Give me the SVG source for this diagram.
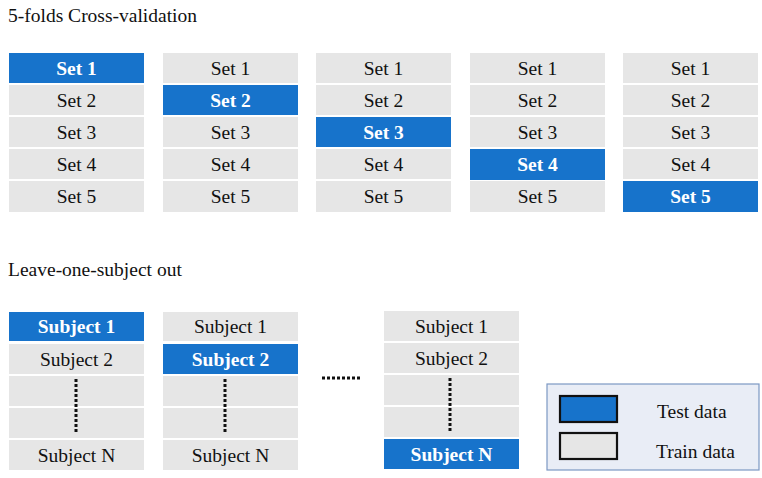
<svg xmlns="http://www.w3.org/2000/svg" width="762" height="478" viewBox="0 0 762 478">
<style>
text{font-family:"Liberation Serif","Times New Roman",serif;font-size:19.5px;fill:#111}
.lbl{text-anchor:middle}
.tr{fill:#e6e6e6}
.te{fill:#1773cb}
.b{font-weight:bold;fill:#fff}
.dot{stroke:#111;stroke-width:3;fill:none;stroke-dasharray:3 2}
</style>
<rect width="762" height="478" fill="#fff"/>
<text x="8" y="22">5-folds Cross-validation</text>
<text x="8" y="276">Leave-one-subject out</text>
<g id="fold1">
<rect class="te" x="9" y="53" width="135" height="30"/><text class="lbl b" x="76.5" y="75">Set 1</text>
<rect class="tr" x="9" y="85" width="135" height="30"/><text class="lbl" x="76.5" y="107">Set 2</text>
<rect class="tr" x="9" y="117" width="135" height="30"/><text class="lbl" x="76.5" y="139">Set 3</text>
<rect class="tr" x="9" y="149" width="135" height="30"/><text class="lbl" x="76.5" y="171">Set 4</text>
<rect class="tr" x="9" y="181" width="135" height="31"/><text class="lbl" x="76.5" y="203">Set 5</text>
</g>
<g id="fold2">
<rect class="tr" x="163" y="53" width="135" height="30"/><text class="lbl" x="230.5" y="75">Set 1</text>
<rect class="te" x="163" y="85" width="135" height="30"/><text class="lbl b" x="230.5" y="107">Set 2</text>
<rect class="tr" x="163" y="117" width="135" height="30"/><text class="lbl" x="230.5" y="139">Set 3</text>
<rect class="tr" x="163" y="149" width="135" height="30"/><text class="lbl" x="230.5" y="171">Set 4</text>
<rect class="tr" x="163" y="181" width="135" height="31"/><text class="lbl" x="230.5" y="203">Set 5</text>
</g>
<g id="fold3">
<rect class="tr" x="316" y="53" width="135" height="30"/><text class="lbl" x="383.5" y="75">Set 1</text>
<rect class="tr" x="316" y="85" width="135" height="30"/><text class="lbl" x="383.5" y="107">Set 2</text>
<rect class="te" x="316" y="117" width="135" height="30"/><text class="lbl b" x="383.5" y="139">Set 3</text>
<rect class="tr" x="316" y="149" width="135" height="30"/><text class="lbl" x="383.5" y="171">Set 4</text>
<rect class="tr" x="316" y="181" width="135" height="31"/><text class="lbl" x="383.5" y="203">Set 5</text>
</g>
<g id="fold4">
<rect class="tr" x="470" y="53" width="135" height="30"/><text class="lbl" x="537.5" y="75">Set 1</text>
<rect class="tr" x="470" y="85" width="135" height="30"/><text class="lbl" x="537.5" y="107">Set 2</text>
<rect class="tr" x="470" y="117" width="135" height="30"/><text class="lbl" x="537.5" y="139">Set 3</text>
<rect class="te" x="470" y="149" width="135" height="31"/><text class="lbl b" x="537.5" y="171">Set 4</text>
<rect class="tr" x="470" y="181" width="135" height="31"/><text class="lbl" x="537.5" y="203">Set 5</text>
</g>
<g id="fold5">
<rect class="tr" x="623" y="53" width="135" height="30"/><text class="lbl" x="690.5" y="75">Set 1</text>
<rect class="tr" x="623" y="85" width="135" height="30"/><text class="lbl" x="690.5" y="107">Set 2</text>
<rect class="tr" x="623" y="117" width="135" height="30"/><text class="lbl" x="690.5" y="139">Set 3</text>
<rect class="tr" x="623" y="149" width="135" height="30"/><text class="lbl" x="690.5" y="171">Set 4</text>
<rect class="te" x="623" y="181" width="135" height="31"/><text class="lbl b" x="690.5" y="203">Set 5</text>
</g>
<g id="loso1">
<rect class="te" x="9" y="312" width="135" height="29"/><text class="lbl b" x="76.5" y="333">Subject 1</text>
<rect class="tr" x="9" y="344" width="135" height="30"/><text class="lbl" x="76.5" y="366">Subject 2</text>
<rect class="tr" x="9" y="376" width="135" height="30"/>
<rect class="tr" x="9" y="408" width="135" height="30"/>
<rect class="tr" x="9" y="440" width="135" height="30"/><text class="lbl" x="76.5" y="462">Subject N</text>
<line class="dot" x1="76" y1="379" x2="76" y2="434"/>
</g>
<g id="loso2">
<rect class="tr" x="163" y="312" width="135" height="29"/><text class="lbl" x="230.5" y="333">Subject 1</text>
<rect class="te" x="163" y="344" width="135" height="30"/><text class="lbl b" x="230.5" y="366">Subject 2</text>
<rect class="tr" x="163" y="376" width="135" height="30"/>
<rect class="tr" x="163" y="408" width="135" height="30"/>
<rect class="tr" x="163" y="440" width="135" height="30"/><text class="lbl" x="230.5" y="462">Subject N</text>
<line class="dot" x1="225" y1="379" x2="225" y2="434"/>
</g>
<g id="ellipsis">
<line class="dot" x1="322" y1="378" x2="362" y2="378"/>
</g>
<g id="losoN">
<rect class="tr" x="384" y="311" width="135" height="30"/><text class="lbl" x="451.5" y="333">Subject 1</text>
<rect class="tr" x="384" y="343" width="135" height="30"/><text class="lbl" x="451.5" y="365">Subject 2</text>
<rect class="tr" x="384" y="375" width="135" height="30"/>
<rect class="tr" x="384" y="407" width="135" height="30"/>
<rect class="te" x="384" y="439" width="135" height="30"/><text class="lbl b" x="451.5" y="461">Subject N</text>
<line class="dot" x1="450" y1="378" x2="450" y2="433"/>
</g>
<g id="legend">
<rect x="547" y="384" width="212" height="86" fill="#e9edf6" stroke="#7c98c4" stroke-width="1.2"/>
<rect x="560" y="396" width="57" height="26" fill="#1773cb" stroke="#111" stroke-width="2.2"/>
<rect x="560" y="433" width="57" height="26" fill="#e6e6e6" stroke="#111" stroke-width="2.2"/>
<text x="657" y="418">Test data</text>
<text x="656" y="458">Train data</text>
</g>
</svg>
